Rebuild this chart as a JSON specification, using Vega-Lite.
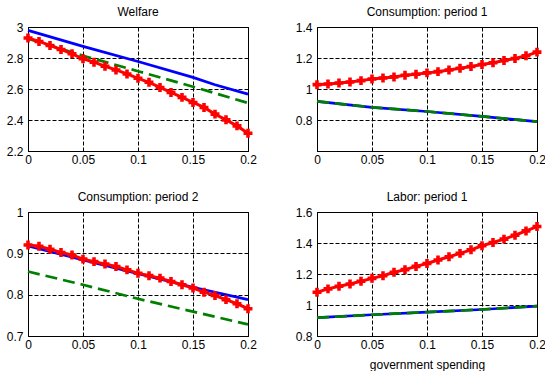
{
  "$schema": "https://vega.github.io/schema/vega-lite/v6.json",
  "padding": {"left": 5, "top": 5, "right": 5, "bottom": 0},
  "background": "white",
  "columns": 2,
  "spacing": {"row": 61, "column": 69},
  "bounds": "flush",
  "datasets": {
    "w": [
      {"x": 0, "s": "b", "y": 2.978}, {"x": 0.05, "s": "b", "y": 2.875}, {"x": 0.1, "s": "b", "y": 2.777}, {"x": 0.15, "s": "b", "y": 2.675}, {"x": 0.17, "s": "b", "y": 2.627}, {"x": 0.2, "s": "b", "y": 2.567},
      {"x": 0, "s": "g", "y": 2.925}, {"x": 0.05, "s": "g", "y": 2.815}, {"x": 0.1, "s": "g", "y": 2.715}, {"x": 0.15, "s": "g", "y": 2.615}, {"x": 0.2, "s": "g", "y": 2.51},
      {"x": 0, "s": "r", "y": 2.929}, {"x": 0.01, "s": "r", "y": 2.907}, {"x": 0.02, "s": "r", "y": 2.881}, {"x": 0.03, "s": "r", "y": 2.855}, {"x": 0.04, "s": "r", "y": 2.827}, {"x": 0.05, "s": "r", "y": 2.795}, {"x": 0.06, "s": "r", "y": 2.773}, {"x": 0.07, "s": "r", "y": 2.747}, {"x": 0.08, "s": "r", "y": 2.723}, {"x": 0.09, "s": "r", "y": 2.697}, {"x": 0.1, "s": "r", "y": 2.669}, {"x": 0.11, "s": "r", "y": 2.643}, {"x": 0.12, "s": "r", "y": 2.61}, {"x": 0.13, "s": "r", "y": 2.578}, {"x": 0.14, "s": "r", "y": 2.546}, {"x": 0.15, "s": "r", "y": 2.513}, {"x": 0.16, "s": "r", "y": 2.481}, {"x": 0.17, "s": "r", "y": 2.438}, {"x": 0.18, "s": "r", "y": 2.401}, {"x": 0.19, "s": "r", "y": 2.362}, {"x": 0.2, "s": "r", "y": 2.315}
    ],
    "c1": [
      {"x": 0, "s": "b", "y": 0.92}, {"x": 0.05, "s": "b", "y": 0.882}, {"x": 0.1, "s": "b", "y": 0.855}, {"x": 0.15, "s": "b", "y": 0.823}, {"x": 0.2, "s": "b", "y": 0.79},
      {"x": 0, "s": "g", "y": 0.92}, {"x": 0.05, "s": "g", "y": 0.882}, {"x": 0.1, "s": "g", "y": 0.855}, {"x": 0.15, "s": "g", "y": 0.823}, {"x": 0.2, "s": "g", "y": 0.79},
      {"x": 0, "s": "r", "y": 1.028}, {"x": 0.01, "s": "r", "y": 1.032}, {"x": 0.02, "s": "r", "y": 1.039}, {"x": 0.03, "s": "r", "y": 1.045}, {"x": 0.04, "s": "r", "y": 1.054}, {"x": 0.05, "s": "r", "y": 1.065}, {"x": 0.06, "s": "r", "y": 1.071}, {"x": 0.07, "s": "r", "y": 1.078}, {"x": 0.08, "s": "r", "y": 1.089}, {"x": 0.09, "s": "r", "y": 1.095}, {"x": 0.1, "s": "r", "y": 1.104}, {"x": 0.11, "s": "r", "y": 1.112}, {"x": 0.12, "s": "r", "y": 1.123}, {"x": 0.13, "s": "r", "y": 1.134}, {"x": 0.14, "s": "r", "y": 1.145}, {"x": 0.15, "s": "r", "y": 1.158}, {"x": 0.16, "s": "r", "y": 1.169}, {"x": 0.17, "s": "r", "y": 1.184}, {"x": 0.18, "s": "r", "y": 1.197}, {"x": 0.19, "s": "r", "y": 1.214}, {"x": 0.2, "s": "r", "y": 1.238}
    ],
    "c2": [
      {"x": 0, "s": "b", "y": 0.918}, {"x": 0.05, "s": "b", "y": 0.884}, {"x": 0.1, "s": "b", "y": 0.851}, {"x": 0.15, "s": "b", "y": 0.818}, {"x": 0.2, "s": "b", "y": 0.788},
      {"x": 0, "s": "g", "y": 0.856}, {"x": 0.05, "s": "g", "y": 0.824}, {"x": 0.1, "s": "g", "y": 0.79}, {"x": 0.15, "s": "g", "y": 0.759}, {"x": 0.2, "s": "g", "y": 0.728},
      {"x": 0, "s": "r", "y": 0.92}, {"x": 0.01, "s": "r", "y": 0.917}, {"x": 0.02, "s": "r", "y": 0.91}, {"x": 0.03, "s": "r", "y": 0.902}, {"x": 0.04, "s": "r", "y": 0.896}, {"x": 0.05, "s": "r", "y": 0.886}, {"x": 0.06, "s": "r", "y": 0.88}, {"x": 0.07, "s": "r", "y": 0.874}, {"x": 0.08, "s": "r", "y": 0.868}, {"x": 0.09, "s": "r", "y": 0.86}, {"x": 0.1, "s": "r", "y": 0.852}, {"x": 0.11, "s": "r", "y": 0.846}, {"x": 0.12, "s": "r", "y": 0.84}, {"x": 0.13, "s": "r", "y": 0.832}, {"x": 0.14, "s": "r", "y": 0.824}, {"x": 0.15, "s": "r", "y": 0.816}, {"x": 0.16, "s": "r", "y": 0.806}, {"x": 0.17, "s": "r", "y": 0.798}, {"x": 0.18, "s": "r", "y": 0.788}, {"x": 0.19, "s": "r", "y": 0.778}, {"x": 0.2, "s": "r", "y": 0.766}
    ],
    "l": [
      {"x": 0, "s": "b", "y": 0.918}, {"x": 0.05, "s": "b", "y": 0.937}, {"x": 0.1, "s": "b", "y": 0.954}, {"x": 0.15, "s": "b", "y": 0.971}, {"x": 0.2, "s": "b", "y": 0.993},
      {"x": 0, "s": "g", "y": 0.918}, {"x": 0.05, "s": "g", "y": 0.937}, {"x": 0.1, "s": "g", "y": 0.954}, {"x": 0.15, "s": "g", "y": 0.971}, {"x": 0.2, "s": "g", "y": 0.993},
      {"x": 0, "s": "r", "y": 1.082}, {"x": 0.01, "s": "r", "y": 1.104}, {"x": 0.02, "s": "r", "y": 1.121}, {"x": 0.03, "s": "r", "y": 1.136}, {"x": 0.04, "s": "r", "y": 1.153}, {"x": 0.05, "s": "r", "y": 1.172}, {"x": 0.06, "s": "r", "y": 1.189}, {"x": 0.07, "s": "r", "y": 1.211}, {"x": 0.08, "s": "r", "y": 1.228}, {"x": 0.09, "s": "r", "y": 1.249}, {"x": 0.1, "s": "r", "y": 1.268}, {"x": 0.11, "s": "r", "y": 1.29}, {"x": 0.12, "s": "r", "y": 1.311}, {"x": 0.13, "s": "r", "y": 1.333}, {"x": 0.14, "s": "r", "y": 1.356}, {"x": 0.15, "s": "r", "y": 1.382}, {"x": 0.16, "s": "r", "y": 1.403}, {"x": 0.17, "s": "r", "y": 1.425}, {"x": 0.18, "s": "r", "y": 1.45}, {"x": 0.19, "s": "r", "y": 1.478}, {"x": 0.2, "s": "r", "y": 1.506}
    ]
  },
  "concat": [
    {
      "title": "Welfare",
      "width": 220, "height": 124,
      "data": {"name": "w"},
      "encoding": {
        "x": {"field": "x", "type": "quantitative", "scale": {"domain": [0, 0.2], "nice": false}, "axis": {"values": [0, 0.05, 0.1, 0.15, 0.2], "format": "~g", "title": null}},
        "y": {"field": "y", "type": "quantitative", "scale": {"domain": [2.2, 3], "nice": false, "zero": false}, "axis": {"values": [2.2, 2.4, 2.6, 2.8, 3], "format": "~g", "title": null}}
      },
      "layer": [
        {"transform": [{"filter": "datum.s == 'b'"}], "mark": {"type": "line", "color": "#0000ff", "strokeWidth": 2.7}},
        {"transform": [{"filter": "datum.s == 'g'"}], "mark": {"type": "line", "color": "#008000", "strokeWidth": 2.7, "strokeDash": [12, 6]}},
        {"transform": [{"filter": "datum.s == 'r'"}], "mark": {"type": "line", "color": "#ff0000", "strokeWidth": 3}},
        {"transform": [{"filter": "datum.s == 'r'"}], "mark": {"type": "point", "shape": "cross", "filled": true, "color": "#ff0000", "size": 80, "opacity": 1}}
      ]
    },
    {
      "title": "Consumption: period 1",
      "width": 220, "height": 124,
      "data": {"name": "c1"},
      "encoding": {
        "x": {"field": "x", "type": "quantitative", "scale": {"domain": [0, 0.2], "nice": false}, "axis": {"values": [0, 0.05, 0.1, 0.15, 0.2], "format": "~g", "title": null}},
        "y": {"field": "y", "type": "quantitative", "scale": {"domain": [0.6, 1.4], "nice": false, "zero": false}, "axis": {"values": [0.8, 1, 1.2, 1.4], "format": "~g", "title": null}}
      },
      "layer": [
        {"transform": [{"filter": "datum.s == 'b'"}], "mark": {"type": "line", "color": "#0000ff", "strokeWidth": 2.7}},
        {"transform": [{"filter": "datum.s == 'g'"}], "mark": {"type": "line", "color": "#008000", "strokeWidth": 2.7, "strokeDash": [12, 6]}},
        {"transform": [{"filter": "datum.s == 'r'"}], "mark": {"type": "line", "color": "#ff0000", "strokeWidth": 3}},
        {"transform": [{"filter": "datum.s == 'r'"}], "mark": {"type": "point", "shape": "cross", "filled": true, "color": "#ff0000", "size": 80, "opacity": 1}}
      ]
    },
    {
      "title": "Consumption: period 2",
      "width": 220, "height": 124,
      "data": {"name": "c2"},
      "encoding": {
        "x": {"field": "x", "type": "quantitative", "scale": {"domain": [0, 0.2], "nice": false}, "axis": {"values": [0, 0.05, 0.1, 0.15, 0.2], "format": "~g", "title": null}},
        "y": {"field": "y", "type": "quantitative", "scale": {"domain": [0.7, 1], "nice": false, "zero": false}, "axis": {"values": [0.7, 0.8, 0.9, 1], "format": "~g", "title": null}}
      },
      "layer": [
        {"transform": [{"filter": "datum.s == 'b'"}], "mark": {"type": "line", "color": "#0000ff", "strokeWidth": 2.7}},
        {"transform": [{"filter": "datum.s == 'g'"}], "mark": {"type": "line", "color": "#008000", "strokeWidth": 2.7, "strokeDash": [12, 6]}},
        {"transform": [{"filter": "datum.s == 'r'"}], "mark": {"type": "line", "color": "#ff0000", "strokeWidth": 3}},
        {"transform": [{"filter": "datum.s == 'r'"}], "mark": {"type": "point", "shape": "cross", "filled": true, "color": "#ff0000", "size": 80, "opacity": 1}}
      ]
    },
    {
      "title": "Labor: period 1",
      "width": 220, "height": 124,
      "data": {"name": "l"},
      "encoding": {
        "x": {"field": "x", "type": "quantitative", "scale": {"domain": [0, 0.2], "nice": false}, "axis": {"values": [0, 0.05, 0.1, 0.15, 0.2], "format": "~g", "title": "government spending"}},
        "y": {"field": "y", "type": "quantitative", "scale": {"domain": [0.8, 1.6], "nice": false, "zero": false}, "axis": {"values": [0.8, 1, 1.2, 1.4, 1.6], "format": "~g", "title": null}}
      },
      "layer": [
        {"transform": [{"filter": "datum.s == 'b'"}], "mark": {"type": "line", "color": "#0000ff", "strokeWidth": 2.7}},
        {"transform": [{"filter": "datum.s == 'g'"}], "mark": {"type": "line", "color": "#008000", "strokeWidth": 2.7, "strokeDash": [12, 6]}},
        {"transform": [{"filter": "datum.s == 'r'"}], "mark": {"type": "line", "color": "#ff0000", "strokeWidth": 3}},
        {"transform": [{"filter": "datum.s == 'r'"}], "mark": {"type": "point", "shape": "cross", "filled": true, "color": "#ff0000", "size": 80, "opacity": 1}}
      ]
    }
  ],
  "config": {
    "font": "Liberation Sans",
    "view": {"stroke": "black", "strokeWidth": 1},
    "axis": {
      "labelFont": "Liberation Sans", "labelFontSize": 12, "labelColor": "black",
      "domainColor": "black", "domainWidth": 1, "ticks": false, "labelPadding": 3,
      "gridColor": "black", "gridDash": [4, 2], "gridOpacity": 1, "gridWidth": 1,
      "titleFont": "Liberation Sans", "titleFontSize": 12, "titleFontWeight": "normal", "titleColor": "black", "titlePadding": 9
    },
    "axisY": {"labelPadding": 5},
    "axisX": {"labelFlush": false},
    "title": {"font": "Liberation Sans", "fontSize": 12, "fontWeight": "normal", "color": "black", "offset": 2}
  }
}
